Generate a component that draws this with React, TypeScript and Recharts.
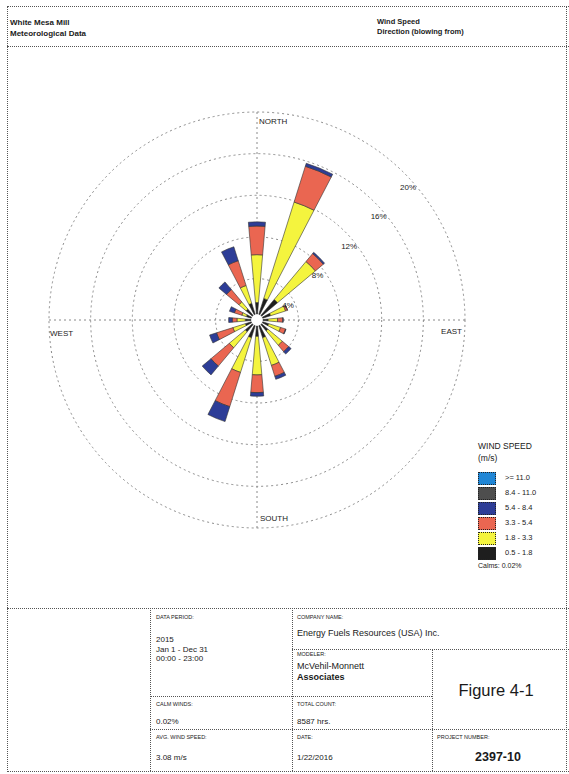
import React from 'react';
import { RadialBarChart, RadialBar, PolarGrid, PolarAngleAxis, PolarRadiusAxis } from 'recharts';

// Directions (wind blowing from), clockwise from North
const directions = ['N', 'NNE', 'NE', 'ENE', 'E', 'ESE', 'SE', 'SSE', 'S', 'SSW', 'SW', 'WSW', 'W', 'WNW', 'NW', 'NNW'];

// Frequency (%) per wind-speed class, per direction
const speed05to18 = [1.7, 2.2, 2.6, 1.4, 1.1, 1.2, 1.4, 1.8, 1.6, 1.8, 1.5, 1.2, 1.15, 1.1, 1.4, 1.7];
const speed18to33 = [4.6, 9.7, 4.75, 1.5, 0.9, 1.2, 1.8, 2.8, 3.7, 3.5, 2.0, 1.25, 0.8, 0.45, 0.9, 1.8];
const speed33to54 = [2.75, 3.6, 1.0, 0.2, 0.5, 0.5, 0.8, 1.1, 1.7, 3.45, 2.3, 1.65, 0.45, 0.75, 1.55, 2.5];
const speed54to84 = [0.4, 0.3, 0.15, 0, 0.05, 0.05, 0.3, 0.3, 0.35, 1.5, 1.1, 0.7, 0.35, 0.5, 0.95, 1.4];
const speed84to110 = [0, 0, 0, 0, 0, 0, 0, 0, 0, 0, 0, 0, 0, 0, 0, 0];
const speed110up = [0, 0, 0, 0, 0, 0, 0, 0, 0, 0, 0, 0, 0, 0, 0, 0];

const speedKeys = ['s1', 's2', 's3', 's4', 's5', 's6'];
const speedLabels = ['0.5 - 1.8', '1.8 - 3.3', '3.3 - 5.4', '5.4 - 8.4', '8.4 - 11.0', '>= 11.0'];
const speedColors = ['#1e1e1e', '#f4f43e', '#ea6651', '#2d3d97', '#4e4e4e', '#1f86d6'];
const speedSeries = [speed05to18, speed18to33, speed33to54, speed54to84, speed84to110, speed110up];

const ringTicks = [4, 8, 12, 16, 20];
const compassLabels: Record<string, string> = { N: 'NORTH', E: 'EAST', S: 'SOUTH', W: 'WEST' };

const data = directions.map((d, i) => {
  const row: Record<string, number | string> = { dir: d };
  speedKeys.forEach((k, j) => {
    row[k] = speedSeries[j][i];
  });
  return row;
});

const CX = 257;
const CY = 320;
const HALF_BAND = 360 / directions.length / 2;

const FONT = '"Liberation Sans", Arial, Helvetica, sans-serif';
const LINE = '1px dotted #555';

const HLine = ({ x1, x2, y }: { x1: number; x2: number; y: number }) => (
  <div style={{ position: 'absolute', left: x1, top: y, width: x2 - x1, height: 0, borderTop: LINE }} />
);
const VLine = ({ x, y1, y2 }: { x: number; y1: number; y2: number }) => (
  <div style={{ position: 'absolute', left: x, top: y1, width: 0, height: y2 - y1, borderLeft: LINE }} />
);
const T = ({ x, y, size, children, bold, align }: any) => (
  <div
    style={{
      position: 'absolute',
      left: align === 'center' ? x - 100 : x,
      width: align === 'center' ? 200 : undefined,
      textAlign: align === 'center' ? 'center' : 'left',
      top: y,
      fontSize: size,
      fontWeight: bold ? 'bold' : 'normal',
      lineHeight: 1,
      whiteSpace: 'nowrap',
      color: '#1a1a1a',
    }}
  >
    {children}
  </div>
);

// The angle-axis tick sits on the band edge; rotate it back to the band centre.
const AngleTick = (props: any) => {
  const { x, y, payload } = props;
  const v = payload?.value;
  const label = compassLabels[v];
  if (!label) return null;
  const a = (HALF_BAND * Math.PI) / 180;
  const ddx = x - CX;
  const ddy = y - CY;
  const px = CX + ddx * Math.cos(a) + ddy * Math.sin(a);
  const py = CY - ddx * Math.sin(a) + ddy * Math.cos(a);
  let dx = 0;
  let dy = 0;
  let anchor: 'start' | 'end' = 'start';
  if (v === 'N') { dx = 2; dy = 20; }
  if (v === 'E') { dx = -11; dy = 14; anchor = 'end'; }
  if (v === 'S') { dx = 3; dy = -15; }
  if (v === 'W') { dx = 9; dy = 16; }
  return (
    <text x={px + dx} y={py + dy} textAnchor={anchor} fontSize={8} fontFamily={FONT} fill="#222">
      {label}
    </text>
  );
};

const RadiusTick = (props: any) => {
  const { x, y, payload } = props;
  return (
    <text x={x - 4} y={y + 17} textAnchor="start" fontSize={8} fontFamily={FONT} fill="#222">
      {payload.value}%
    </text>
  );
};

export default function App() {
  return (
    <div
      style={{
        position: 'absolute',
        left: 0,
        top: 0,
        width: 569,
        height: 774,
        background: '#fff',
        fontFamily: FONT,
        overflow: 'hidden',
      }}
    >
      {/* outer frame */}
      <HLine x1={7} x2={569} y={6} />
      <VLine x={7} y1={6} y2={772} />
      <VLine x={566} y1={6} y2={772} />
      <HLine x1={7} x2={569} y={46} />
      <HLine x1={7} x2={569} y={771} />

      {/* header */}
      <T x={10} y={19} size={8} bold>White Mesa Mill</T>
      <T x={10} y={30} size={8} bold>Meteorological Data</T>
      <T x={377} y={18} size={7.5} bold>Wind Speed</T>
      <T x={377} y={28} size={7.5} bold>Direction (blowing from)</T>

      {/* rose */}
      <div style={{ position: 'absolute', left: 0, top: 0 }}>
        <RadialBarChart
          width={569}
          height={600}
          data={data}
          cx={CX}
          cy={CY}
          innerRadius={6}
          outerRadius={208}
          startAngle={90 - HALF_BAND}
          endAngle={90 - HALF_BAND - 360}
          layout="centric"
          barCategoryGap="28%"
          margin={{ top: 0, right: 0, bottom: 0, left: 0 }}
        >
          <PolarGrid gridType="circle" radialLines={false} stroke="#8a8a8a" strokeDasharray="2 3" />
          <PolarGrid gridType="circle" polarAngles={[0, 90, 180, 270]} polarRadius={[]} stroke="#8a8a8a" strokeDasharray="2 3" />
          <PolarAngleAxis
            type="category"
            dataKey="dir"
            axisLine={false}
            tickLine={false}
            tickSize={0}
            tick={<AngleTick />}
          />
          <PolarRadiusAxis
            type="number"
            angle={45}
            domain={[0.6, 20]}
            allowDataOverflow
            ticks={ringTicks}
            axisLine={false}
            tick={<RadiusTick />}
          />
          {speedKeys.map((k, j) => (
            <RadialBar
              key={k}
              dataKey={k}
              stackId="a"
              fill={speedColors[j]}
              stroke={j < 4 ? '#333' : 'none'}
              strokeWidth={0.6}
              isAnimationActive={false}
            />
          ))}
        </RadialBarChart>
      </div>

      {/* legend */}
      <T x={478} y={442} size={8.5}>WIND SPEED</T>
      <T x={478} y={454} size={8.5}>(m/s)</T>
      {speedLabels
        .map((lab, j) => ({ lab, color: speedColors[j] }))
        .reverse()
        .map((it, i) => (
          <React.Fragment key={it.lab}>
            <div
              style={{
                position: 'absolute',
                left: 478,
                top: 472 + i * 15,
                width: 16,
                height: 11,
                background: it.color,
                border: '1px dotted #222',
              }}
            />
            <T x={505} y={474 + i * 15} size={7.5}>{it.lab}</T>
          </React.Fragment>
        ))}
      <T x={478} y={562} size={7}>Calms: 0.02%</T>

      {/* bottom table */}
      <HLine x1={7} x2={569} y={608} />
      <VLine x={150} y1={608} y2={771} />
      <VLine x={292} y1={608} y2={771} />
      <HLine x1={292} x2={569} y={649} />
      <VLine x={432} y1={649} y2={771} />
      <HLine x1={150} x2={432} y={696} />
      <HLine x1={150} x2={569} y={729} />

      <T x={156} y={615} size={5.5}>DATA PERIOD:</T>
      <T x={156} y={636} size={8}>2015</T>
      <T x={156} y={646} size={8}>Jan 1 - Dec 31</T>
      <T x={156} y={655} size={8}>00:00 - 23:00</T>

      <T x={156} y={702} size={5.5}>CALM WINDS:</T>
      <T x={156} y={718} size={8}>0.02%</T>

      <T x={156} y={735} size={5.5}>AVG. WIND SPEED:</T>
      <T x={156} y={754} size={8}>3.08 m/s</T>

      <T x={297} y={615} size={5.5}>COMPANY NAME:</T>
      <T x={297} y={629} size={9}>Energy Fuels Resources (USA) Inc.</T>

      <T x={297} y={652} size={5.5}>MODELER:</T>
      <T x={297} y={662} size={9}>McVehil-Monnett</T>
      <T x={297} y={673} size={9} bold>Associates</T>

      <T x={297} y={702} size={5.5}>TOTAL COUNT:</T>
      <T x={297} y={718} size={8}>8587 hrs.</T>

      <T x={297} y={735} size={5.5}>DATE:</T>
      <T x={297} y={754} size={8}>1/22/2016</T>

      <T x={496} y={682} size={16.5} align="center">Figure 4-1</T>

      <T x={437} y={735} size={5.5}>PROJECT NUMBER:</T>
      <T x={498} y={751} size={12.5} bold align="center">2397-10</T>
    </div>
  );
}
